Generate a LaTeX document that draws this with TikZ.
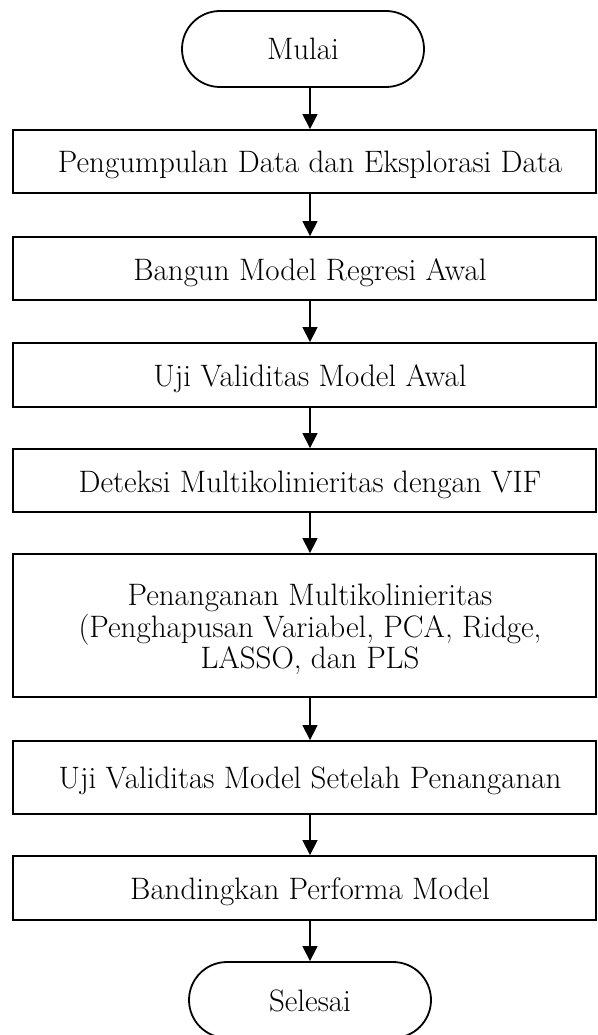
\documentclass[tikz,border=0pt]{standalone}
\usetikzlibrary{arrows.meta}
\begin{document}
\begin{tikzpicture}[x=1pt,y=-1pt,
  boxstyle/.style={draw, line width=1.8pt, rectangle, minimum width=583pt, inner sep=0pt},
  termstyle/.style={draw, line width=1.8pt, rounded corners=38pt, minimum width=242pt, minimum height=76pt, inner sep=0pt},
  lbl/.style={font=\fontsize{31}{31.7}\selectfont, align=center, inner sep=0pt, anchor=base},
  flow/.style={-{Triangle[length=15pt,width=15pt]}, line width=1.3pt}]
\useasboundingbox (0,0) rectangle (597,1035);

\node[termstyle] (m) at (303,49) {};
\node[lbl] (tm) at (303,60) {Mulai};

\node[boxstyle, minimum height=63pt] (b1) at (304.5,161.5) {};
\node[lbl] (t1) at (310,173) {Pengumpulan Data dan Eksplorasi Data};

\node[boxstyle, minimum height=63pt] (b2) at (304.5,268.5) {};
\node[lbl] (t2) at (310,280) {Bangun Model Regresi Awal};

\node[boxstyle, minimum height=64pt] (b3) at (304.5,375) {};
\node[lbl] (t3) at (310,386.5) {Uji Validitas Model Awal};

\node[boxstyle, minimum height=63pt] (b4) at (304.5,480.5) {};
\node[lbl] (t4) at (310,492) {Deteksi Multikolinieritas dengan VIF};

\node[boxstyle, minimum height=143pt] (b5) at (304.5,625.5) {};
\node[lbl] (t5) at (310,668.7) {Penanganan Multikolinieritas\\(Penghapusan Variabel, PCA, Ridge,\\LASSO, dan PLS};

\node[boxstyle, minimum height=73pt] (b6) at (304.5,777.5) {};
\node[lbl] (t6) at (310,788) {Uji Validitas Model Setelah Penanganan};

\node[boxstyle, minimum height=64pt] (b7) at (304.5,888) {};
\node[lbl] (t7) at (310,899.5) {Bandingkan Performa Model};

\node[termstyle] (s) at (310,1000) {};
\node[lbl] (ts) at (310,1011) {Selesai};

\draw[flow] (m.south -| t1) -- (b1.north -| t1);
\draw[flow] (b1.south -| t1) -- (b2.north -| t1);
\draw[flow] (b2.south -| t1) -- (b3.north -| t1);
\draw[flow] (b3.south -| t1) -- (b4.north -| t1);
\draw[flow] (b4.south -| t1) -- (b5.north -| t1);
\draw[flow] (b5.south -| t1) -- (b6.north -| t1);
\draw[flow] (b6.south -| t1) -- (b7.north -| t1);
\draw[flow] (b7.south -| t1) -- (s.north);
\end{tikzpicture}
\end{document}
